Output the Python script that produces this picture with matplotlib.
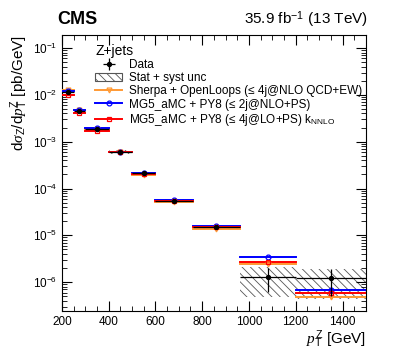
import numpy as np
import matplotlib; matplotlib.use("Agg")
import matplotlib.pyplot as plt
from matplotlib.patches import Patch
from matplotlib.lines import Line2D
from matplotlib.ticker import MultipleLocator, LogLocator, NullFormatter

plt.rcParams.update({"font.family": "Liberation Sans", "mathtext.fontset": "custom",
    "mathtext.rm": "Liberation Sans", "mathtext.it": "Liberation Serif:italic",
    "mathtext.bf": "Liberation Sans:bold", "hatch.linewidth": 0.6, "hatch.color": "#555555"})

# pT(Z) bins [GeV]
edges = np.array([200, 250, 300, 400, 500, 600, 760, 960, 1200, 1500])
# measured cross section [pb/GeV]
data = np.array([1.15e-2, 4.6e-3, 1.85e-3, 6.1e-4, 2.1e-4, 5.5e-5, 1.5e-5, 1.3e-6, 1.2e-6])
data_lo = np.array([1.12e-2, 4.5e-3, 1.8e-3, 5.95e-4, 2.05e-4, 5.35e-5, 1.45e-5, 6.1e-7, 5.0e-7])
data_hi = np.array([1.18e-2, 4.7e-3, 1.9e-3, 6.25e-4, 2.15e-4, 5.65e-5, 1.55e-5, 2.0e-6, 1.9e-6])
# stat + syst band
tot_lo = np.array([1.03e-2, 4.1e-3, 1.62e-3, 5.4e-4, 1.85e-4, 4.8e-5, 1.28e-5, 4.8e-7, 4.4e-7])
tot_hi = np.array([1.27e-2, 5.0e-3, 2.0e-3, 6.6e-4, 2.25e-4, 5.9e-5, 1.6e-5, 2.1e-6, 1.9e-6])
# predictions
sherpa = np.array([1.25e-2, 4.8e-3, 1.85e-3, 6.0e-4, 1.95e-4, 5.1e-5, 1.35e-5, 2.45e-6, 4.8e-7])
mg_nlo = np.array([1.2e-2, 4.7e-3, 1.95e-3, 6.1e-4, 2.1e-4, 5.6e-5, 1.55e-5, 3.4e-6, 6.8e-7])
mg_lo = np.array([1.0e-2, 4.2e-3, 1.7e-3, 5.9e-4, 2.0e-4, 5.4e-5, 1.5e-5, 2.7e-6, 6.0e-7])

centers = 0.5 * (edges[:-1] + edges[1:])
halfw = 0.5 * (edges[1:] - edges[:-1])

fig = plt.figure(figsize=(4.07, 3.5), dpi=100)
ax = fig.add_axes([0.152, 0.111, 0.747, 0.789])

# stat+syst hatched band
for i in range(len(data)):
    ax.fill_between([edges[i], edges[i+1]], tot_lo[i], tot_hi[i], facecolor="none",
                    edgecolor="#555555", hatch=r"\\\\", linewidth=0, zorder=1)

preds = [(sherpa, "#ff9933", "v", "Sherpa + OpenLoops (≤ 4j@NLO QCD+EW)"),
         (mg_nlo, "#0000ff", "o", "MG5_aMC + PY8 (≤ 2j@NLO+PS)"),
         (mg_lo, "#ff0000", "s", r"MG5_aMC + PY8 (≤ 4j@LO+PS) k$_{\mathrm{NNLO}}$")]
handles = []
for vals, col, mk, lab in preds:
    for i in range(len(vals)):
        ax.fill_between([edges[i], edges[i+1]], vals[i]*0.95, vals[i]*1.05, color=col,
                        alpha=0.4, linewidth=0, zorder=2)
        ax.plot([edges[i], edges[i+1]], [vals[i], vals[i]], color=col, lw=1.4, zorder=3)
    ax.plot(centers, vals, ls="none", marker=mk, ms=3.5, mfc="none", mec=col, mew=0.9, zorder=4)
    handles.append(Line2D([], [], color=col, lw=1.4, marker=mk, ms=3.5, mfc="none", mec=col, mew=0.9))

eb = ax.errorbar(centers, data, xerr=halfw, yerr=[data - data_lo, data_hi - data], fmt="o",
                 color="black", ms=2.8, elinewidth=0.9, capsize=0, zorder=5)
hatch_h = Patch(facecolor="none", edgecolor="#555555", hatch=r"\\\\", lw=0.8)

leg = ax.legend([eb, hatch_h] + handles,
                ["Data", "Stat + syst unc"] + [p[3] for p in preds],
                title="Z+jets", alignment="left", loc="upper left", bbox_to_anchor=(0.095, 0.985),
                frameon=False, fontsize=8.45, title_fontsize=10, handlelength=2.3,
                handletextpad=0.55, labelspacing=0.1, borderaxespad=0)

ax.set_yscale("log")
ax.set_xlim(200, 1500)
ax.set_ylim(2.4e-7, 0.19)
ax.xaxis.set_major_locator(MultipleLocator(200))
ax.xaxis.set_minor_locator(MultipleLocator(50))
ax.yaxis.set_major_locator(LogLocator(base=10, numticks=20))
ax.yaxis.set_minor_locator(LogLocator(base=10, subs=np.arange(2, 10), numticks=20))
ax.yaxis.set_minor_formatter(NullFormatter())
ax.tick_params(which="both", direction="in", top=True, right=True, labelsize=8.5)
ax.tick_params(which="major", length=7)
ax.tick_params(which="minor", length=3.5)

ax.set_xlabel(r"$p_{\mathrm{T}}^{\mathrm{Z}}$ [GeV]", fontsize=11, loc="right", labelpad=0)
ax.set_ylabel(r"d$\sigma_{\mathrm{Z}}$/d$p_{\mathrm{T}}^{\mathrm{Z}}$ [pb/GeV]", fontsize=11,
              loc="top", labelpad=2)
fig.text(0.14, 0.93, "CMS", fontsize=13, fontweight="bold", va="baseline")
fig.text(0.905, 0.93, r"35.9 fb$^{-1}$ (13 TeV)", fontsize=11, ha="right", va="baseline")

fig.savefig("out.png", dpi=100)
